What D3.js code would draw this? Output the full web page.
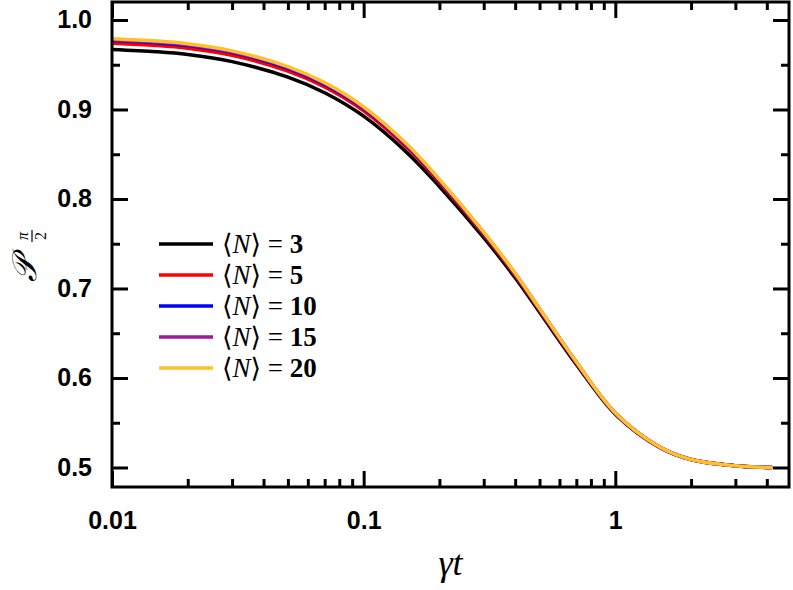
<meta charset="utf-8">
<style>body { margin: 0; }</style>
<svg width="793" height="590"></svg>
<script src="https://d3js.org/d3.v7.min.js"></script>
<script>
// gamma*t sample points
var gt = [0.01, 0.015, 0.02, 0.03, 0.05, 0.07, 0.1, 0.15, 0.2, 0.3, 0.4, 0.5, 0.7, 1, 1.5, 2, 3, 4.2];

var labels = ["3", "5", "10", "15", "20"];
var colors = ["#000000", "#ff0000", "#0000ff", "#9b1a9e", "#ffc125"];

var n3  = [0.967, 0.9645, 0.9614, 0.9535, 0.9362, 0.9187, 0.8925, 0.8507, 0.814, 0.7568, 0.712, 0.6735, 0.6152, 0.5595, 0.5224, 0.5088, 0.502, 0.500];
var n5  = [0.974, 0.9715, 0.9684, 0.9605, 0.943, 0.9253, 0.8986, 0.8561, 0.8186, 0.7604, 0.7149, 0.6758, 0.6168, 0.5604, 0.5227, 0.509, 0.502, 0.500];
var n10 = [0.977, 0.9745, 0.9714, 0.9635, 0.946, 0.9281, 0.9012, 0.8584, 0.8206, 0.7619, 0.7161, 0.6768, 0.6175, 0.5607, 0.5229, 0.509, 0.502, 0.500];
var n15 = [0.978, 0.9755, 0.9724, 0.9645, 0.947, 0.9291, 0.9022, 0.8593, 0.8214, 0.7625, 0.7166, 0.6772, 0.6178, 0.5609, 0.523, 0.509, 0.502, 0.500];
var n20 = [0.979, 0.9765, 0.9734, 0.9655, 0.948, 0.930, 0.903, 0.860, 0.822, 0.763, 0.717, 0.6775, 0.618, 0.561, 0.523, 0.509, 0.502, 0.500];

var xMajor = [0.01, 0.1, 1];
var yMajor = [0.5, 0.6, 0.7, 0.8, 0.9, 1.0];

var svg = d3.select("svg"),
    margin = {top: 2, right: 4, bottom: 103, left: 112},
    width = +svg.attr("width"),
    height = +svg.attr("height");

var x = d3.scaleLog()
    .domain([0.01, 4.9])
    .range([margin.left, width - margin.right]);

var y = d3.scaleLinear()
    .domain([0.4782, 1.0201])
    .range([height - margin.bottom, margin.top]);

var xMinor = [];
[0.01, 0.1, 1].forEach(function(d) {
  for (var k = 2; k <= 9; k++) if (d * k <= 4.9) xMinor.push(d * k);
});
var yMinor = d3.range(0.55, 1.02, 0.1);

var series = [n3, n5, n10, n15, n20];

svg.append("defs").append("clipPath").attr("id", "clip")
  .append("rect")
    .attr("x", x.range()[0]).attr("y", y.range()[1])
    .attr("width", x.range()[1] - x.range()[0])
    .attr("height", y.range()[0] - y.range()[1]);

var line = d3.line()
    .x(function(d, i) { return x(gt[i]); })
    .y(function(d) { return y(d); })
    .curve(d3.curveCatmullRom.alpha(0.5));

svg.append("g")
    .attr("clip-path", "url(#clip)")
  .selectAll("path")
  .data(series)
  .enter().append("path")
    .attr("d", line)
    .attr("fill", "none")
    .attr("stroke", function(d, i) { return colors[i]; })
    .attr("stroke-width", 3.5);

// axes, ticks pointing inwards on all four sides
var fmtX = function(d) { return d >= 1 ? d3.format("d")(d) : String(d); };

function styleAxis(g) {
  g.select(".domain").remove();
  g.selectAll("line").attr("stroke", "#000").attr("stroke-width", 3);
  g.selectAll("text")
    .attr("font-family", "Liberation Sans, Arial, sans-serif")
    .attr("font-weight", "bold")
    .attr("font-size", "25px")
    .attr("fill", "#000");
}

var yb = y.range()[0], yt = y.range()[1], xl = x.range()[0], xr = x.range()[1];

svg.append("g").attr("transform", "translate(0," + yb + ")")
    .call(d3.axisBottom(x).tickValues(xMajor).tickFormat(fmtX).tickSize(-16).tickPadding(24))
    .call(styleAxis);
svg.append("g").attr("transform", "translate(0," + yb + ")")
    .call(d3.axisBottom(x).tickValues(xMinor).tickFormat("").tickSize(-8))
    .call(styleAxis);
svg.append("g").attr("transform", "translate(0," + yt + ")")
    .call(d3.axisTop(x).tickValues(xMajor).tickFormat("").tickSize(-16))
    .call(styleAxis);
svg.append("g").attr("transform", "translate(0," + yt + ")")
    .call(d3.axisTop(x).tickValues(xMinor).tickFormat("").tickSize(-8))
    .call(styleAxis);

svg.append("g").attr("transform", "translate(" + xl + ",0)")
    .call(d3.axisLeft(y).tickValues(yMajor).tickFormat(d3.format(".1f")).tickSize(-16).tickPadding(20))
    .call(styleAxis);
svg.append("g").attr("transform", "translate(" + xl + ",0)")
    .call(d3.axisLeft(y).tickValues(yMinor).tickFormat("").tickSize(-8))
    .call(styleAxis);
svg.append("g").attr("transform", "translate(" + xr + ",0)")
    .call(d3.axisRight(y).tickValues(yMajor).tickFormat("").tickSize(-16))
    .call(styleAxis);
svg.append("g").attr("transform", "translate(" + xr + ",0)")
    .call(d3.axisRight(y).tickValues(yMinor).tickFormat("").tickSize(-8))
    .call(styleAxis);

svg.append("rect")
    .attr("x", xl).attr("y", yt)
    .attr("width", xr - xl).attr("height", yb - yt)
    .attr("fill", "none")
    .attr("stroke", "#000")
    .attr("stroke-width", 3);

// legend
var leg = svg.append("g").attr("transform", "translate(159,244)");
var row = leg.selectAll("g")
  .data(labels)
  .enter().append("g")
    .attr("transform", function(d, i) { return "translate(0," + (i * 31) + ")"; });

row.append("line")
    .attr("x1", 0).attr("x2", 54)
    .attr("stroke", function(d, i) { return colors[i]; })
    .attr("stroke-width", 3.5);

var lt = row.append("text")
    .attr("x", 63).attr("y", 9)
    .attr("font-family", "Liberation Serif, DejaVu Serif, serif")
    .attr("font-size", "27px");
lt.append("tspan").text("\u27E8");
lt.append("tspan").attr("font-style", "italic").text("N");
lt.append("tspan").text("\u27E9 = ");
lt.append("tspan").attr("font-weight", "bold").text(function(d) { return d; });

// axis titles
svg.append("text")
    .attr("x", (xl + xr) / 2).attr("y", 575)
    .attr("text-anchor", "middle")
    .attr("font-family", "Liberation Serif, DejaVu Serif, serif")
    .attr("font-style", "italic")
    .attr("font-size", "36px")
    .text("\u03B3t");

var yl = svg.append("g").attr("transform", "translate(36,282) rotate(-90)");
yl.append("text")
    .attr("x", 0).attr("y", 0)
    .attr("font-family", "DejaVu Serif, serif")
    .attr("font-style", "italic")
    .attr("font-size", "34px")
    .text("\uD835\uDCAB");
yl.append("text")
    .attr("x", 46).attr("y", -8)
    .attr("text-anchor", "middle")
    .attr("font-family", "Liberation Serif, serif")
    .attr("font-style", "italic")
    .attr("font-size", "16px")
    .text("\u03C0");
yl.append("line")
    .attr("x1", 40).attr("x2", 52).attr("y1", -4).attr("y2", -4)
    .attr("stroke", "#000").attr("stroke-width", 1.2);
yl.append("text")
    .attr("x", 46).attr("y", 10)
    .attr("text-anchor", "middle")
    .attr("font-family", "Liberation Serif, serif")
    .attr("font-size", "16px")
    .text("2");
</script>
